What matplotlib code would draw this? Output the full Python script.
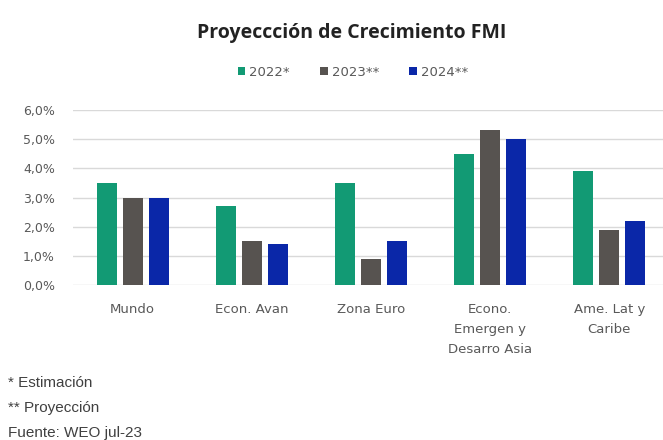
import numpy as np
import matplotlib
matplotlib.use('Agg')
import matplotlib.pyplot as plt
from matplotlib.ticker import FuncFormatter

categorias = ['Mundo', 'Econ. Avan', 'Zona Euro', 'Econo.\nEmergen y\nDesarro Asia', 'Ame. Lat y\nCaribe']
series = ['2022*', '2023**', '2024**']
v2022 = [3.5, 2.7, 3.5, 4.5, 3.9]
v2023 = [3.0, 1.5, 0.9, 5.3, 1.9]
v2024 = [3.0, 1.4, 1.5, 5.0, 2.2]
notas = ['* Estimación', '** Proyección', 'Fuente: WEO jul-23']

colores = ['#129A74', '#575350', '#0A27A8']

fig = plt.figure(figsize=(6.63, 4.40), dpi=100)
ax = fig.add_axes([73/663, 155/440, 590/663, 175/440])

x = np.arange(len(categorias))
width = 0.168
step = 0.218
bars = []
for i, (vals, c) in enumerate(zip([v2022, v2023, v2024], colores)):
    b = ax.bar(x + (i - 1) * step, vals, width, color=c, label=series[i], zorder=3)
    bars.append(b)

ax.set_xlim(-0.5, 4.45)
ax.set_ylim(0, 6.0)
ax.set_yticks(np.arange(0, 6.01, 1.0))
ax.yaxis.set_major_formatter(FuncFormatter(lambda v, p: ('%.1f%%' % v).replace('.', ',')))
ax.grid(axis='y', color='#D9D9D9', linewidth=1, zorder=0)
for s in ax.spines.values():
    s.set_visible(False)
ax.tick_params(axis='both', length=0, labelcolor='#595959')
ax.tick_params(axis='y', pad=13, labelsize=9)
ax.tick_params(axis='x', pad=13, labelsize=9.5)
ax.set_xticks(x)
ax.set_xticklabels(categorias, fontfamily='DejaVu Sans', linespacing=1.7, va='top')

fig.text(352/663, 1 - 33/440, 'Proyeccción de Crecimiento FMI', ha='center', va='center',
         fontsize=14, fontweight='bold', fontfamily='Open Sans', color='#222222')

leg = fig.legend(handles=bars, labels=series, loc='center', bbox_to_anchor=(353/663, 1 - 72/440),
                 ncol=3, frameon=False, handlelength=0.55, handleheight=0.55,
                 handletextpad=0.3, columnspacing=2.3, prop={'family': 'DejaVu Sans', 'size': 9.5})
for t in leg.get_texts():
    t.set_color('#595959')

for i, n in enumerate(notas):
    fig.text(8/663, 1 - (383 + i * 25)/440, n, ha='left', va='center',
             fontsize=11, fontfamily='Liberation Sans', color='#404040')

fig.savefig('out.png', dpi=100)
